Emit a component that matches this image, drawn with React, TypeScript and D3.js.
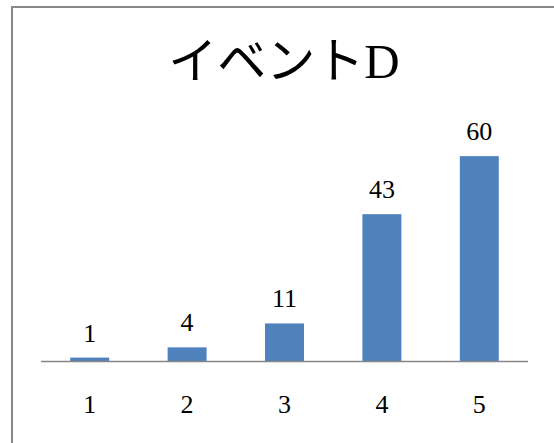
import React from "react";
import * as d3 from "d3";

const categories = ["1", "2", "3", "4", "5"];
const values = [1, 4, 11, 43, 60];
const title = "イベントD";
const yMax = 70;

const W = 554;
const H = 443;
const plotLeft = 41;
const plotRight = 528;
const axisY = 361;
const plotTop = 122;

const fontFamily = '"Liberation Serif", "DejaVu Serif", "Noto Sans CJK JP", serif';

export default function App() {
  const x = d3
    .scaleBand<string>()
    .domain(categories)
    .range([plotLeft, plotRight])
    .paddingInner(0.6)
    .paddingOuter(0.3);
  const y = d3.scaleLinear().domain([0, yMax]).range([axisY, plotTop]);

  return (
    <svg
      width={W}
      height={H}
      style={{ position: "absolute", left: 0, top: 0, background: "#fff" }}
      fontFamily={fontFamily}
    >
      <rect x={0} y={0} width={W} height={H} fill="#fff" />
      {/* chart frame */}
      <rect x={12} y={7} width={W + 20} height={H + 20} fill="none" stroke="#898989" strokeWidth={2} />
      <text x={284} y={78} textAnchor="middle" fontSize={49} fill="#000">
        {title}
      </text>
      {values.map((v, i) => (
        <rect
          key={categories[i]}
          x={x(categories[i])}
          y={y(v)}
          width={x.bandwidth()}
          height={axisY - y(v)}
          fill="#4F81BD"
        />
      ))}
      <line x1={plotLeft} x2={plotRight} y1={axisY + 0.5} y2={axisY + 0.5} stroke="#868686" strokeWidth={1.5} />
      {values.map((v, i) => (
        <text
          key={"v" + i}
          x={(x(categories[i]) as number) + x.bandwidth() / 2}
          y={y(v) - 16}
          textAnchor="middle"
          fontSize={26}
          fill="#000"
        >
          {v}
        </text>
      ))}
      {categories.map((c) => (
        <text
          key={"c" + c}
          x={(x(c) as number) + x.bandwidth() / 2}
          y={413}
          textAnchor="middle"
          fontSize={26}
          fill="#000"
        >
          {c}
        </text>
      ))}
    </svg>
  );
}
